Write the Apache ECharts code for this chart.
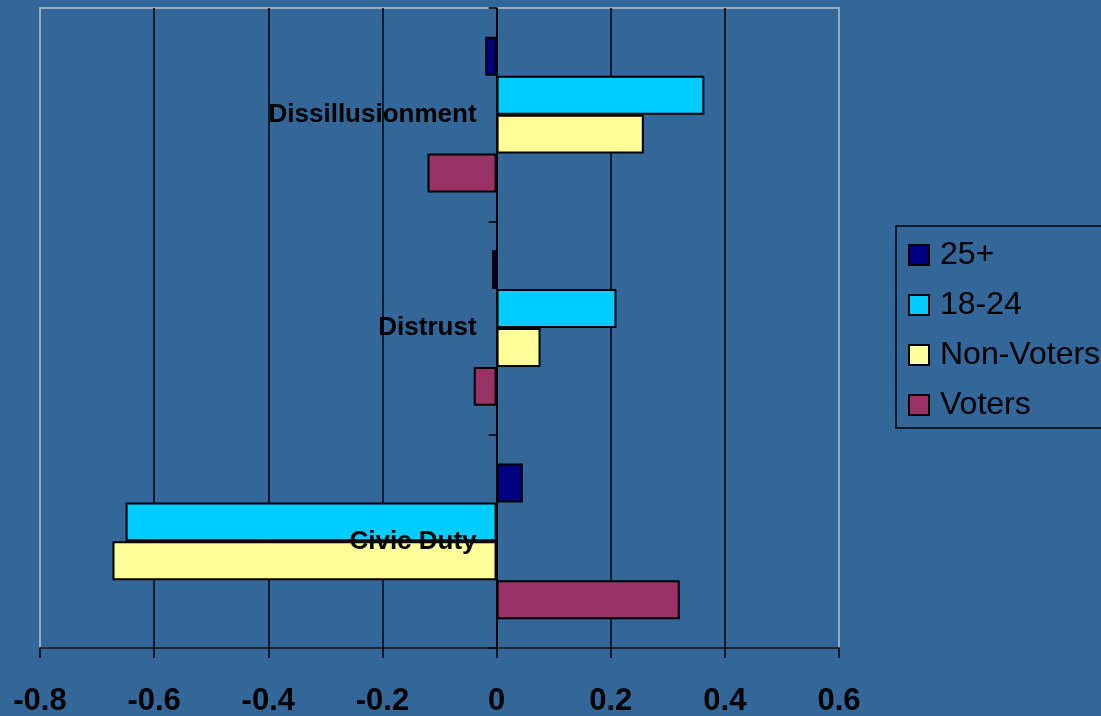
<!DOCTYPE html>
<html>
<head>
<meta charset="utf-8">
<script src="https://cdn.jsdelivr.net/npm/echarts@6/dist/echarts.min.js"></script>
<style>
html,body{margin:0;padding:0;background:#336699;}
#chart{width:1101px;height:716px;}
</style>
</head>
<body>
<div id="chart"></div>
<script>
const categories = ['Civic Duty', 'Distrust', 'Dissillusionment'];
const seriesNames = ['25+', '18-24', 'Non-Voters', 'Voters'];
const values25plus = [0.046, -0.008, -0.02];
const values1824 = [-0.65, 0.21, 0.364];
const valuesNonVoters = [-0.673, 0.077, 0.258];
const valuesVoters = [0.321, -0.04, -0.121];
const xTicks = [-0.8, -0.6, -0.4, -0.2, 0, 0.2, 0.4, 0.6];

const colors = ['#000080', '#00ccff', '#ffff99', '#993366'];
const allValues = [values25plus, values1824, valuesNonVoters, valuesVoters];
const FONT = 'Liberation Sans, Arial, sans-serif';

const GRID_LEFT = 40, GRID_RIGHT = 262, CHART_W = 1101;
const X_MIN = xTicks[0], X_MAX = xTicks[xTicks.length - 1];
const zeroOffset = (CHART_W - GRID_LEFT - GRID_RIGHT) * (0 - X_MIN) / (X_MAX - X_MIN);

const chart = echarts.init(document.getElementById('chart'));
chart.setOption({
  backgroundColor: '#336699',
  animation: false,
  grid: {
    left: GRID_LEFT, right: GRID_RIGHT, top: 8, bottom: 68,
    containLabel: false, outerBoundsMode: 'none',
    show: true, borderColor: '#c0c0c0', borderWidth: 1.5, backgroundColor: 'transparent'
  },
  legend: {
    orient: 'vertical',
    left: 896, top: 226,
    padding: [11, 30, 5, 12],
    itemGap: 14,
    itemWidth: 20, itemHeight: 20,
    icon: 'rect',
    borderColor: '#000', borderWidth: 1.5,
    textStyle: { fontFamily: FONT, fontSize: 32, color: '#000', lineHeight: 36, padding: [0, 0, 0, 6] },
    data: seriesNames
  },
  xAxis: {
    type: 'value',
    min: X_MIN, max: X_MAX, interval: 0.2,
    axisLine: { show: true, lineStyle: { color: '#000', width: 1.5 } },
    axisTick: { show: true, length: 10, lineStyle: { color: '#000', width: 1.5 } },
    splitLine: { show: true, showMinLine: false, showMaxLine: false, lineStyle: { color: '#000', width: 1.5 } },
    axisLabel: {
      margin: 38, fontFamily: FONT, fontSize: 31, fontWeight: 'bold', color: '#000',
      formatter: function (v) {
        const t = xTicks.find(x => Math.abs(x - v) < 1e-9);
        return t === undefined ? '' : String(t);
      }
    }
  },
  yAxis: {
    type: 'category',
    data: categories,
    position: 'left',
    offset: -zeroOffset,
    z: 5,
    axisLine: { show: true, onZero: false, lineStyle: { color: '#000', width: 1.5 } },
    axisTick: { show: true, length: 8, lineStyle: { color: '#000', width: 1.5 } },
    axisLabel: { margin: 20, fontFamily: FONT, fontSize: 26, fontWeight: 'bold', color: '#000', padding: [4, 0, 0, 0] },
    splitLine: { show: false }
  },
  series: seriesNames.map((name, i) => ({
    name: name,
    type: 'bar',
    data: allValues[i],
    barGap: '0%',
    barCategoryGap: '27%',
    itemStyle: { color: colors[i], borderColor: '#000', borderWidth: 2 }
  }))
});
</script>
</body>
</html>
